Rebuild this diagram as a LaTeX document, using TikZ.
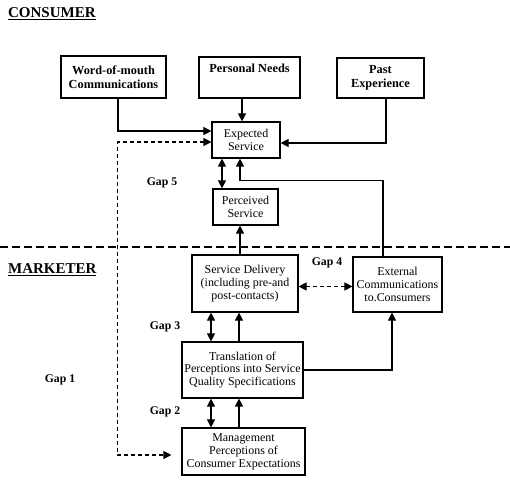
\documentclass[tikz,border=0pt]{standalone}
\usepackage{fontspec}
\setmainfont{Liberation Serif}
\usetikzlibrary{arrows.meta,calc}

\tikzset{
  box/.style={draw, line width=1pt, align=center, inner sep=1pt, font=\fontsize{10.2}{11}\selectfont},
  topbox/.style={box, line width=1.4pt, font=\fontsize{10.5}{12}\selectfont\bfseries},
  gaplabel/.style={font=\fontsize{10}{12}\selectfont\bfseries},
  sidelabel/.style={anchor=west, font=\fontsize{12.8}{15}\selectfont\bfseries},
  arr/.style={line width=0.9pt, -{Triangle[length=2.4mm,width=2.4mm]}},
  dblarr/.style={arr, {Triangle[length=2.4mm,width=2.4mm]}-{Triangle[length=2.4mm,width=2.4mm]}},
  dasharr/.style={dblarr, dash pattern=on 1.2mm off 0.9mm},
}

\begin{document}
\begin{tikzpicture}[x=0.3mm, y=0.3mm]
  \useasboundingbox (0, 0) rectangle (510, 492);
  \node[sidelabel] (consumer) at (4, 478) {\underline{CONSUMER}};
  \node[sidelabel] (marketer) at (4, 222) {\underline{MARKETER}};
  \draw[line width=1.5pt, dash pattern=on 2.4mm off 1.2mm] (0, 245) -- (510, 245);

  \node[topbox, minimum width=31.5mm, minimum height=12.6mm] (wom) at (113.5, 415) {Word-of-mouth\\Communications};
  \node[topbox, minimum width=30.3mm, minimum height=12.3mm] (needs) at (249.5, 414.5) {Personal Needs\\\strut};
  \node[topbox, minimum width=26.1mm, minimum height=12mm] (past) at (380.5, 414) {Past\\Experience};
  \node[box, minimum width=20.4mm, minimum height=10.8mm] (exp) at (246, 352) {Expected\\Service};
  \node[box, minimum width=19.5mm, minimum height=10.8mm] (perc) at (245.5, 285) {Perceived\\Service};
  \node[box, minimum width=31.8mm, minimum height=17.1mm] (deliv) at (245, 208.5) {Service Delivery\\(including pre-and\\post-contacts)};
  \node[box, minimum width=26.7mm, minimum height=16.5mm] (ext) at (397.5, 207.5) {External\\Communications\\to.Consumers};
  \node[box, minimum width=36.3mm, minimum height=16.8mm] (trans) at (242.5, 122) {Translation of\\Perceptions into Service\\Quality Specifications};
  \node[box, minimum width=36.9mm, minimum height=14.1mm] (mgmt) at (243.5, 40.5) {Management\\Perceptions of\\Consumer Expectations};

  \node[gaplabel] (gap5) at (162, 309) {Gap 5};
  \node[gaplabel] (gap4) at (327, 229) {Gap 4};
  \node[gaplabel] (gap3) at (165, 165) {Gap 3};
  \node[gaplabel] (gap2) at (165, 80) {Gap 2};
  \node[gaplabel] (gap1) at (60, 112) {Gap 1};

  \draw[arr] ($(wom.south)+(4.5, 0)$) |- ($(exp.west)+(0, 9)$);
  \draw[arr] ($(needs.south)+(-7.5, 0)$) -- ($(exp.north)+(-4, 0)$);
  \draw[arr] ($(past.south)+(5.5, 0)$) |- ($(exp.east)+(0, -3)$);
  \draw[dblarr] ($(exp.south)+(-24, 0)$) -- ($(perc.north)+(-23.5, 0)$);
  \draw[arr] ($(ext.north)+(-14.5, 0)$) |- ($(exp.south)+(-6, -22)$) -- ($(exp.south)+(-6, 0)$);
  \draw[arr] ($(deliv.north)+(-5, 0)$) -- ($(perc.south)+(-5.5, 0)$);
  \draw[dasharr] ($(deliv.east)+(0, -3)$) -- ($(ext.west)+(0, -2)$);
  \draw[dblarr] ($(trans.north)+(-31.5, 0)$) -- ($(deliv.south)+(-34, 0)$);
  \draw[arr] ($(trans.north)+(-3.5, 0)$) -- ($(deliv.south)+(-6, 0)$);
  \draw[arr] (trans.east) -| ($(ext.south)+(-5.5, 0)$);
  \draw[dblarr] ($(mgmt.north)+(-32.5, 0)$) -- ($(trans.south)+(-31.5, 0)$);
  \draw[arr] ($(mgmt.north)+(-4.5, 0)$) -- ($(trans.south)+(-3.5, 0)$);
  \draw[dasharr, shorten >=3mm] ($(exp.west)+(0, -2)$) -| ($(mgmt.west)+(-64, -3.5)$) -- ($(mgmt.west)+(0, -3.5)$);
\end{tikzpicture}
\end{document}
